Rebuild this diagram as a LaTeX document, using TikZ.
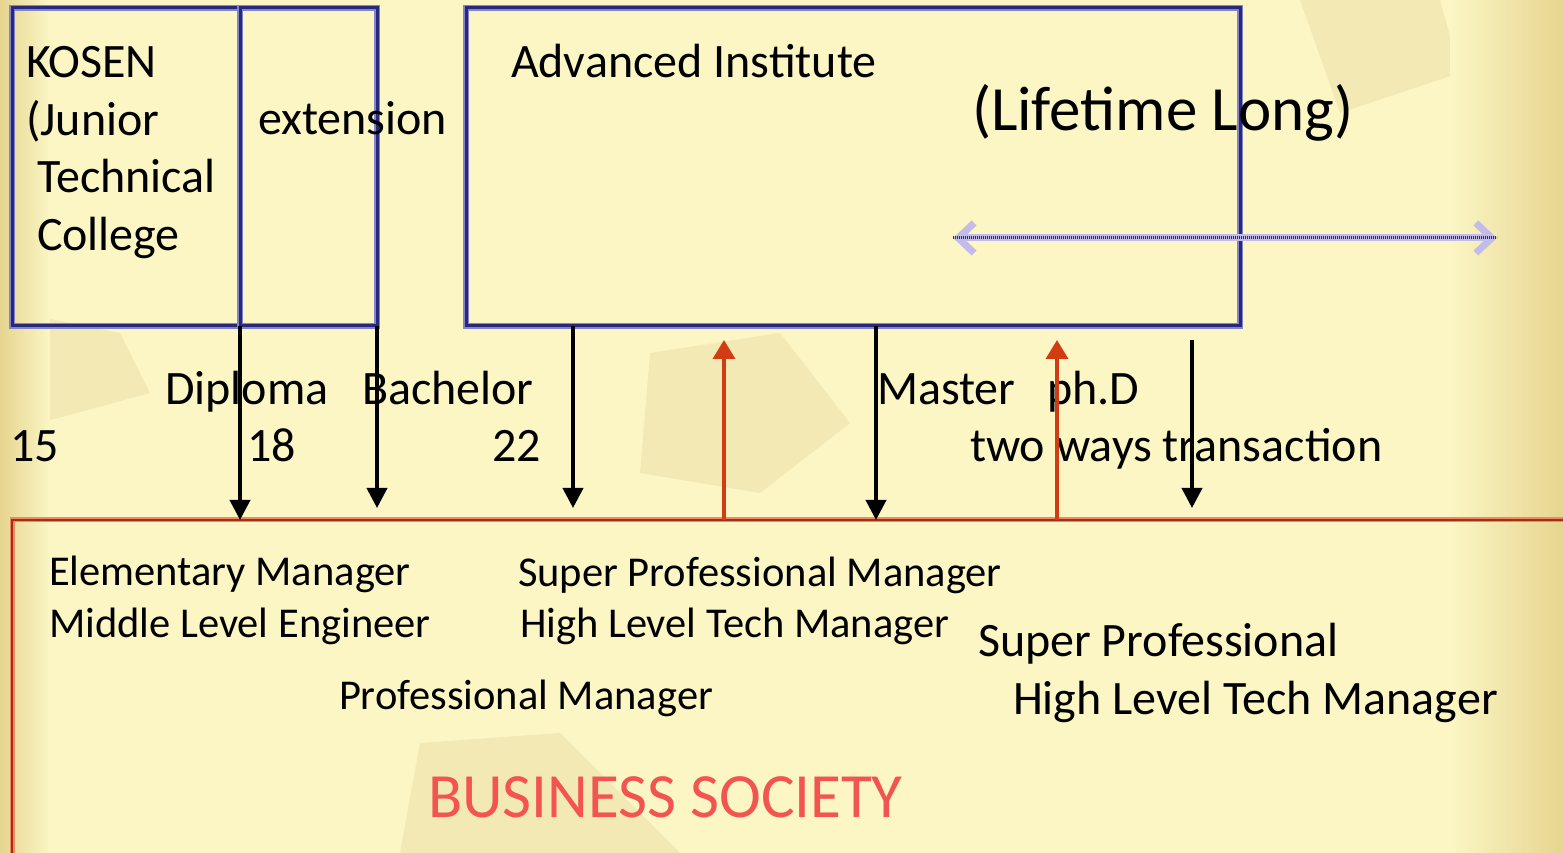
\documentclass[tikz,border=0pt]{standalone}
\usepackage{fontspec}
\setmainfont{Carlito}
\usepackage{xcolor}
\usetikzlibrary{calc,positioning,arrows.meta}
\definecolor{color_bg_edge}{HTML}{E6D590}
\definecolor{color_bg_mid}{HTML}{FBF6C4}
\definecolor{color_bg_piece}{HTML}{F3E9B5}
\definecolor{color_inst_dark}{HTML}{28287E}
\definecolor{color_inst_light}{HTML}{8484C8}
\definecolor{color_soc_dark}{HTML}{A32E16}
\definecolor{color_soc_light}{HTML}{EC8A62}
\definecolor{color_up}{HTML}{D23C14}
\definecolor{color_life}{HTML}{C4BCE8}
\definecolor{color_society_text}{HTML}{F25450}

\tikzset{
	lbl/.style={inner sep=0, outer sep=0, anchor=base west, font=\fontsize{48}{58}\selectfont},
	lblsmall/.style={lbl, font=\fontsize{42.5}{51}\selectfont},
	lblbig/.style={lbl, font=\fontsize{63}{76}\selectfont},
	instbox/.style={rectangle, draw=color_inst_light, double=color_inst_dark, double distance=3pt,
		line width=1.1pt, inner sep=0, outer sep=0, anchor=north west},
	socbox/.style={rectangle, draw=color_soc_light, double=color_soc_dark, double distance=2.4pt,
		line width=1.3pt, inner sep=0, outer sep=0, anchor=north west},
	down/.style={-{Triangle[width=20pt,length=20pt]}, black, line width=3.8pt},
	up/.style={-{Triangle[width=22pt,length=19pt]}, color_up, line width=3.6pt},
	lifearrow/.style={{Straight Barb[length=16pt,width=30pt]}-{Straight Barb[length=16pt,width=30pt]},
		color_life, line width=7pt,
		postaction={draw=black!80, dash pattern=on 1.2pt off 0.8pt, line width=3pt, -}},
	piece/.style={fill=color_bg_piece}
}

\begin{document}
\begin{tikzpicture}[x=1pt,y=1pt]
	\useasboundingbox (0, 0) rectangle (1563, 853);
	\clip (0, 0) rectangle (1563, 853);
	% Background
	\fill[color_bg_mid] (0, 0) rectangle (1563, 853);
	\fill[piece] (400, 0) -- (420, 110) -- (560, 120) -- (680, 0) -- cycle;
	\fill[piece] (640, 380) -- (760, 360) -- (850, 430) -- (780, 520) -- (650, 500) -- cycle;
	\fill[piece] (1300, 853) -- (1440, 853) -- (1460, 780) -- (1340, 740) -- cycle;
	\fill[piece] (20, 540) -- (120, 520) -- (150, 460) -- (40, 430) -- cycle;
	\fill[left color=color_bg_edge, right color=color_bg_mid] (0, 0) rectangle (50, 853);
	\fill[left color=color_bg_mid, right color=color_bg_edge] (1450, 0) rectangle (1563, 853);

	% Boxes
	\node[instbox, minimum width=228, minimum height=318] (kosen) at (12, 845) {};
	\node[instbox, minimum width=137, minimum height=318] (ext) at (kosen.north east) {};
	\node[instbox, minimum width=774, minimum height=318] (ai) at (466, 845) {};
	\node[socbox, minimum width=1600, minimum height=400] (biz) at (12, 333) {};

	% Box texts
	\node[lbl] (kosenA) at (26, 775) {KOSEN};
	\node[lbl] (kosenB) at ($(kosenA.base west)+(0,-57.5)$) {(Junior};
	\node[lbl] (kosenC) at ($(kosenB.base west)+(11,-57.5)$) {Technical};
	\node[lbl] (kosenD) at ($(kosenC.base west)+(0,-57.5)$) {College};
	\node[lbl] (extT) at ($(ext.north west)+(18,-127)$) {extension};
	\node[lbl] (aiT) at ($(ai.north west)+(45,-70)$) {Advanced Institute};
	\node[lblbig] (life) at (972, 722) {(Lifetime Long)};

	% Degrees and ages
	\node[lbl] (diploma) at (165, 448) {Diploma};
	\node[lbl] (bachelor) at (362, 448) {Bachelor};
	\node[lbl] (master) at (877, 448) {Master};
	\node[lbl] (phd) at (1047, 448) {ph.D};
	\node[lbl] (ageA) at (10, 391) {15};
	\node[lbl] (ageB) at (247, 391) {18};
	\node[lbl] (ageC) at (492, 391) {22};
	\node[lbl] (twoways) at (970, 391) {two ways transaction};

	% Society texts
	\node[lblsmall] (elem) at (49, 267) {Elementary Manager};
	\node[lblsmall] (middle) at (49, 215) {Middle Level Engineer};
	\node[lblsmall] (superA) at (518, 266) {Super Professional Manager};
	\node[lblsmall] (highA) at (520, 215) {High Level Tech Manager};
	\node[lblsmall] (prof) at (339, 143) {Professional Manager};
	\node[lbl] (superB) at (978, 196) {Super Professional};
	\node[lbl] (highB) at (1013, 138) {High Level Tech Manager};
	\node[lblbig, text=color_society_text] (society) at (428, 35) {BUSINESS SOCIETY};

	% Points
	\coordinate (extEnd) at (377, 345);
	\coordinate (aiOut) at (573, 527);
	\coordinate (aiOutEnd) at (573, 345);
	\coordinate (masterOut) at (876, 527);
	\coordinate (phdIn) at (1192, 513);
	\coordinate (phdEnd) at (1192, 345);
	\coordinate (backA) at (724, 513);
	\coordinate (backB) at (1057, 513);
	\coordinate (lifeL) at (953, 615);
	\coordinate (lifeR) at (1497, 615);

	% Arrows
	\draw[down] (kosen.south east) -- (kosen.south east |- biz.north);
	\draw[down] (ext.south east) -- (extEnd);
	\draw[down] (aiOut) -- (aiOutEnd);
	\draw[down] (masterOut) -- (masterOut |- biz.north);
	\draw[down] (phdIn) -- (phdEnd);
	\draw[up] (backA |- biz.north) -- (backA);
	\draw[up] (backB |- biz.north) -- (backB);
	\draw[lifearrow] (lifeL) -- (lifeR);
\end{tikzpicture}
\end{document}
